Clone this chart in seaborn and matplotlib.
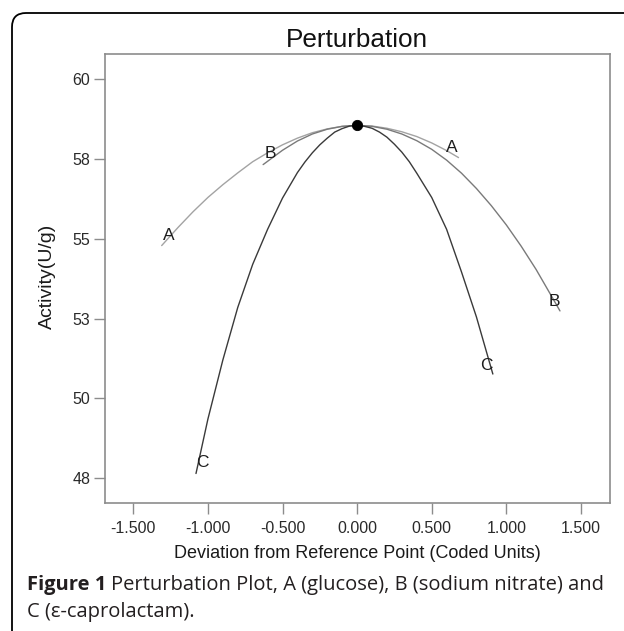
import numpy as np
import pandas as pd
import seaborn as sns
import matplotlib.pyplot as plt
from matplotlib.patches import FancyBboxPatch
from matplotlib.transforms import IdentityTransform

# values (coded deviation vs activity)
a_dev = [-1.31, -1.2, -1.1, -1.0, -0.9, -0.8, -0.7, -0.6, -0.5, -0.4, -0.3, -0.2, -0.1,
         0.0, 0.1, 0.2, 0.3, 0.4, 0.5, 0.6, 0.68]
a_act = [54.79, 55.36, 55.85, 56.30, 56.70, 57.07, 57.42, 57.70, 57.95, 58.16, 58.33, 58.45, 58.53,
         58.56, 58.54, 58.47, 58.36, 58.21, 58.01, 57.77, 57.55]

b_dev = [-0.63, -0.5, -0.4, -0.3, -0.2, -0.1, 0.0, 0.1, 0.2, 0.3, 0.4, 0.5, 0.6, 0.7,
         0.8, 0.9, 1.0, 1.1, 1.2, 1.3, 1.36]
b_act = [57.33, 57.78, 58.07, 58.29, 58.44, 58.53, 58.56, 58.53, 58.44, 58.29, 58.08, 57.81, 57.47, 57.06,
         56.58, 56.04, 55.44, 54.77, 54.04, 53.23, 52.74]

c_dev = [-1.08, -1.0, -0.9, -0.8, -0.7, -0.6, -0.5, -0.4, -0.35, -0.3, -0.25, -0.2, -0.15, -0.1, -0.05,
         0.0, 0.05, 0.1, 0.15, 0.2, 0.25, 0.3, 0.35, 0.4, 0.5, 0.6, 0.7, 0.8, 0.91]
c_act = [47.64, 49.35, 51.20, 52.85, 54.20, 55.30, 56.28, 57.08, 57.41, 57.70, 57.95, 58.16, 58.35, 58.46, 58.54,
         58.56, 58.53, 58.47, 58.35, 58.19, 57.97, 57.72, 57.42, 57.06, 56.30, 55.30, 53.96, 52.55, 50.76]

ref_dev = [0.0]
ref_act = [58.56]

# curve end labels
label_text = ['A', 'A', 'B', 'B', 'C', 'C']
label_x = [-1.265, 0.635, -0.58, 1.32, -1.035, 0.865]
label_y = [55.10, 57.87, 57.67, 53.05, 47.98, 51.02]

x_ticks = [-1.5, -1.0, -0.5, 0.0, 0.5, 1.0, 1.5]
x_tick_labels = ['-1.500', '-1.000', '-0.500', '0.000', '0.500', '1.000', '1.500']
y_ticks = [47.5, 50.0, 52.5, 55.0, 57.5, 60.0]
y_tick_labels = ['48', '50', '53', '55', '58', '60']

df = pd.concat([
    pd.DataFrame({'dev': a_dev, 'activity': a_act, 'factor': 'A'}),
    pd.DataFrame({'dev': b_dev, 'activity': b_act, 'factor': 'B'}),
    pd.DataFrame({'dev': c_dev, 'activity': c_act, 'factor': 'C'}),
])

sns.set_style('white')
plt.rcParams['font.family'] = ['Liberation Sans', 'DejaVu Sans']

W, H = 624, 631
fig = plt.figure(figsize=(W / 100, H / 100), dpi=100)
ax = fig.add_axes([105 / W, 1 - 502.5 / H, (609.5 - 105) / W, (502.5 - 54.3) / H])

sns.lineplot(data=df, x='dev', y='activity', hue='factor', units='factor', estimator=None,
             sort=False, palette={'A': '#a3a3a3', 'B': '#7a7a7a', 'C': '#3a3a3a'},
             linewidth=1.0, legend=False, ax=ax)
sns.scatterplot(x=ref_dev, y=ref_act, color='black', s=55, edgecolor='black', zorder=5, ax=ax)

for t, x, y in zip(label_text, label_x, label_y):
    ax.text(x, y, t, fontsize=12.5, color='#1e1e1e', ha='center', va='center')

ax.set_xlim(-1.69, 1.692)
ax.set_ylim(46.73, 60.79)
ax.set_xticks(x_ticks)
ax.set_xticklabels(x_tick_labels)
ax.set_yticks(y_ticks)
ax.set_yticklabels(y_tick_labels)
ax.tick_params(bottom=True, left=True, direction='out', length=8, width=1, color='#8c8c8c',
               labelsize=11.5, labelcolor='#2a2a2a')
ax.tick_params(axis='y', pad=2.5)
ax.tick_params(axis='x', pad=5)
for s in ax.spines.values():
    s.set_color('#8c8c8c')
    s.set_linewidth(1.2)

ax.set_title('Perturbation', fontsize=18.8, color='#111111', pad=5)
ax.set_xlabel('Deviation from Reference Point (Coded Units)', fontsize=13, color='#1a1a1a', labelpad=7)
ax.set_ylabel('Activity(U/g)', fontsize=14, color='#1a1a1a')
ax.yaxis.set_label_coords(-0.098, 0.505)

# rounded frame running off the right and bottom edges
frame = FancyBboxPatch((12, -30), 700, H - 13 + 30, boxstyle='round,pad=0,rounding_size=14',
                       transform=IdentityTransform(), facecolor='none', edgecolor='black',
                       linewidth=1.3)
fig.patches.append(frame)

# caption
cap_font = ['Open Sans', 'DejaVu Sans']
cap_size = 14.5
bold = fig.text(27 / W, 1 - 585 / H, 'Figure 1', fontsize=cap_size, fontweight='bold',
                family=cap_font, color='#231f20', va='center')
fig.canvas.draw()
bb = bold.get_window_extent()
fig.text(bb.x1 / W + 5 / W, 1 - 585 / H, 'Perturbation Plot, A (glucose), B (sodium nitrate) and',
         fontsize=cap_size, fontweight='medium', family=cap_font, color='#231f20', va='center')
fig.text(27 / W, 1 - 612 / H, 'C (\u03b5-caprolactam).', fontsize=cap_size, fontweight='medium',
         family=cap_font, color='#231f20', va='center')

fig.savefig('out.png', dpi=100)
